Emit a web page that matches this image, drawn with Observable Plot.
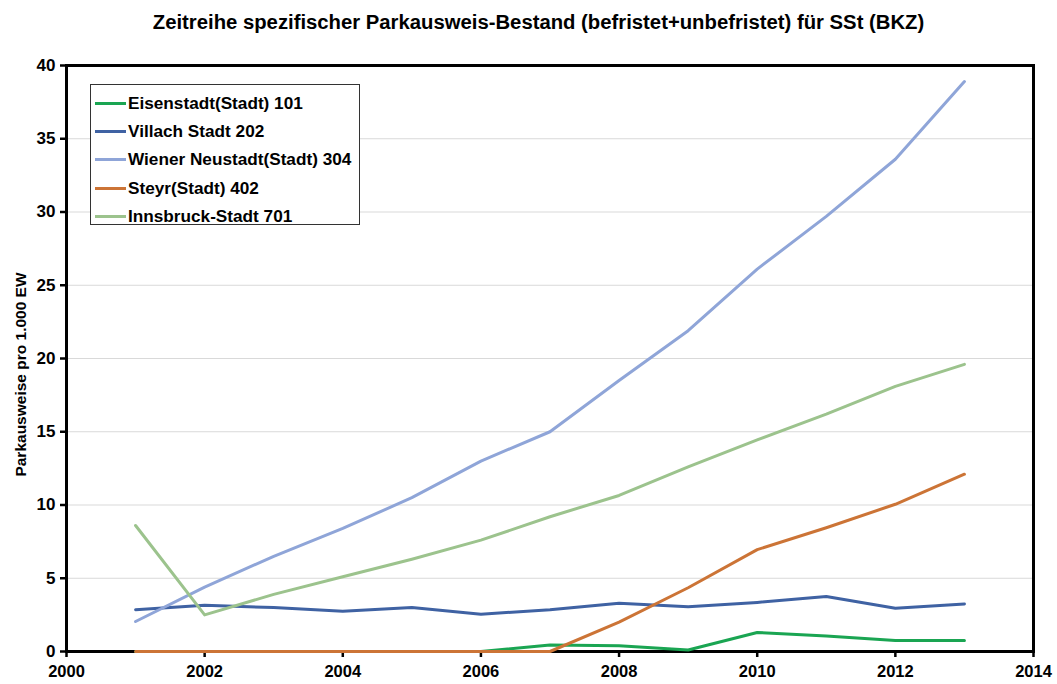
<!DOCTYPE html>
<html>
<head>
<meta charset="utf-8">
<script src="https://cdn.jsdelivr.net/npm/d3@7"></script>
<script src="https://cdn.jsdelivr.net/npm/@observablehq/plot@0.6"></script>
<style>
  html, body { margin: 0; padding: 0; background: #fff; }
  body { width: 1057px; height: 684px; position: relative; font-family: "Liberation Sans", Arial, sans-serif; color: #000; }
  #title { height: 45px; line-height: 44px; text-align: center; font-weight: bold; font-size: 20.3px; padding-left: 20px; white-space: nowrap; }
  #legend { position: absolute; left: 90px; top: 84px; width: 270px; height: 141px; border: 1px solid #333; background: #fff; box-sizing: border-box; padding-top: 4px; }
  .li { display: flex; align-items: center; height: 28.4px; font-weight: bold; font-size: 17.2px; }
  .sw { width: 31px; height: 3px; margin-left: 4px; margin-right: 2px; }
</style>
</head>
<body>
<div id="title">Zeitreihe spezifischer Parkausweis-Bestand (befristet+unbefristet) für SSt (BKZ)</div>
<div id="chart"></div>
<div id="legend"></div>
<script>
const years = [2001, 2002, 2003, 2004, 2005, 2006, 2007, 2008, 2009, 2010, 2011, 2012, 2013];
const seriesNames = ["Eisenstadt(Stadt) 101", "Villach Stadt 202", "Wiener Neustadt(Stadt) 304", "Steyr(Stadt) 402", "Innsbruck-Stadt 701"];
const seriesColors = ["#1aa552", "#3f62a3", "#8fa5d8", "#cc7436", "#9cc38d"];
const eisenstadt = [0, 0, 0, 0, 0, 0, 0.45, 0.4, 0.1, 1.3, 1.05, 0.75, 0.75];
const villach = [2.85, 3.15, 3.0, 2.75, 3.0, 2.55, 2.85, 3.3, 3.05, 3.35, 3.75, 2.95, 3.25];
const wienerNeustadt = [2.05, 4.4, 6.5, 8.4, 10.5, 13.0, 15.0, 18.5, 21.9, 26.1, 29.7, 33.6, 38.9];
const steyr = [0, 0, 0, 0, 0, 0, 0, 2.0, 4.35, 6.95, 8.45, 10.05, 12.1];
const innsbruck = [8.6, 2.5, 3.9, 5.1, 6.3, 7.6, 9.2, 10.65, 12.6, 14.45, 16.2, 18.1, 19.6];
const yTicks = [0, 5, 10, 15, 20, 25, 30, 35, 40];
const xTicks = [2000, 2002, 2004, 2006, 2008, 2010, 2012, 2014];

const allSeries = [eisenstadt, villach, wienerNeustadt, steyr, innsbruck];
const rows = [];
allSeries.forEach((vals, i) => vals.forEach((v, j) => rows.push({series: seriesNames[i], year: years[j], value: v})));

const plot = Plot.plot({
  width: 1057,
  height: 639,
  marginLeft: 66,
  marginRight: 24,
  marginTop: 20,
  marginBottom: 33,
  style: {fontFamily: "'Liberation Sans', Arial, sans-serif", color: "#000", background: "#fff", overflow: "visible"},
  x: {type: "linear", domain: [2000, 2014]},
  y: {domain: [0, 40]},
  color: {domain: seriesNames, range: seriesColors},
  marks: [
    Plot.gridY(yTicks, {stroke: "#d9d9d9", strokeOpacity: 1, strokeWidth: 1}),
    Plot.frame({stroke: "#000", strokeWidth: 3}),
    Plot.axisY(yTicks, {tickSize: 6, tickPadding: 5, strokeWidth: 2.5, fontSize: 17, fontWeight: "bold", label: "Parkausweise pro 1.000 EW", labelAnchor: "center", labelArrow: "none", labelOffset: 52}),
    Plot.axisX(xTicks, {tickSize: 6, tickPadding: 8, strokeWidth: 2.5, fontSize: 16.5, fontWeight: "bold", tickFormat: d => String(d), label: null}),
    Plot.line(rows, {x: "year", y: "value", z: "series", stroke: "series", strokeWidth: 3, strokeLinejoin: "round"})
  ]
});
plot.querySelectorAll("g[aria-label='y-axis label'] text").forEach(t => { t.setAttribute("font-size", "15.5"); t.setAttribute("font-weight", "bold"); t.setAttribute("dx", "-16"); });
document.getElementById("chart").appendChild(plot);

const legend = document.getElementById("legend");
seriesNames.forEach((n, i) => {
  const d = document.createElement("div");
  d.className = "li";
  d.innerHTML = `<span class="sw" style="background:${seriesColors[i]}"></span><span>${n}</span>`;
  legend.appendChild(d);
});
</script>
</body>
</html>
